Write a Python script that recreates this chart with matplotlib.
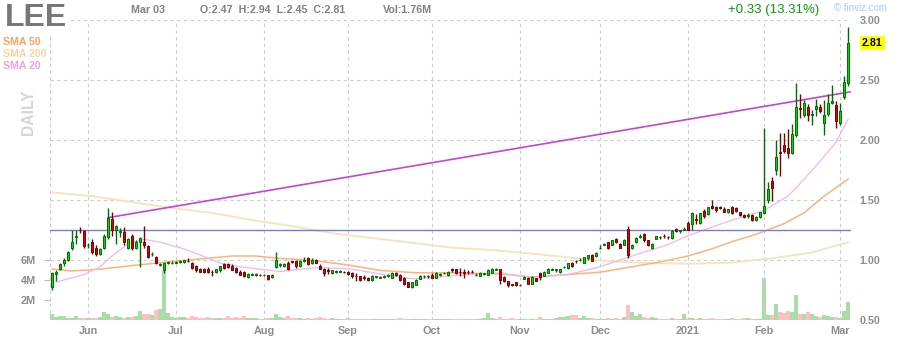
import matplotlib
matplotlib.use('Agg')
import matplotlib.pyplot as plt
import numpy as np
import pandas as pd

plt.rcParams['font.family'] = ['Liberation Sans', 'DejaVu Sans']

# ---------------- data ----------------
ticker = "LEE"
holidays = ['2020-05-25', '2020-07-03', '2020-09-07', '2020-11-26',
            '2020-12-25', '2021-01-01', '2021-01-18', '2021-02-15']
dates = pd.bdate_range('2020-05-18', '2021-03-03')
dates = dates[~dates.isin(pd.to_datetime(holidays))]

opens = [0.77, 0.88, 0.925, 0.97, 1.00, 1.10, 1.19, 1.25, 1.24, 1.12,
         1.15, 1.10, 1.05, 1.10, 1.19, 1.34, 1.25, 1.23, 1.23, 1.10,
         1.20, 1.10, 1.15, 1.15, 1.11, 1.045, 1.02, 0.955, 0.91, 0.97,
         0.97, 0.975, 0.98, 0.98, 0.99, 0.975, 0.95, 0.925, 0.925, 0.925,
         0.90, 0.895, 0.91, 0.96, 0.965, 0.95, 0.93, 0.90, 0.90, 0.855,
         0.875, 0.87, 0.875, 0.87, 0.87, 0.855, 0.94, 0.955, 0.95, 0.975,
         0.985, 0.99, 0.95, 0.99, 1.01, 0.97, 1.00, 0.95, 0.925, 0.91,
         0.89, 0.90, 0.90, 0.90, 0.90, 0.89, 0.865, 0.86, 0.855, 0.845,
         0.83, 0.855, 0.85, 0.855, 0.86, 0.85, 0.89, 0.875, 0.85, 0.81,
         0.77, 0.79, 0.84, 0.86, 0.865, 0.875, 0.85, 0.87, 0.885, 0.87,
         0.92, 0.92, 0.90, 0.895, 0.90, 0.90, 0.87, 0.865, 0.88, 0.875,
         0.89, 0.915, 0.92, 0.855, 0.82, 0.795, 0.81, 0.788, 0.84, 0.85,
         0.80, 0.845, 0.89, 0.865, 0.89, 0.915, 0.915, 0.895, 0.935, 0.93,
         0.975, 0.99, 0.995, 0.975, 1.01, 1.04, 1.03, 1.095, 1.125, 1.145,
         1.125, 1.175, 1.13, 1.125, 1.255, 1.10, 1.145, 1.19, 1.21, 1.16,
         1.10, 1.175, 1.19, 1.20, 1.19, 1.18, 1.255, 1.24, 1.25, 1.305,
         1.30, 1.335, 1.305, 1.405, 1.38, 1.45, 1.435, 1.435, 1.425, 1.395,
         1.44, 1.43, 1.395, 1.375, 1.36, 1.375, 1.33, 1.355, 1.39, 1.50,
         1.66, 1.745, 1.895, 1.96, 1.93, 1.89, 2.04, 2.265, 2.21, 2.275,
         2.21, 2.26, 2.275, 2.14, 2.215, 2.31, 2.29, 2.14, 2.36, 2.47]
highs = [0.90, 0.91, 0.97, 1.01, 1.07, 1.25, 1.25, 1.27, 1.25, 1.14,
         1.17, 1.12, 1.10, 1.21, 1.43, 1.40, 1.29, 1.26, 1.27, 1.18,
         1.21, 1.16, 1.19, 1.28, 1.12, 1.06, 1.03, 0.97, 0.98, 0.99,
         0.985, 0.99, 1.00, 1.00, 1.01, 0.98, 0.955, 0.93, 0.93, 0.935,
         0.91, 0.925, 0.95, 0.97, 0.975, 0.96, 0.935, 0.91, 0.905, 0.885,
         0.89, 0.885, 0.88, 0.88, 0.875, 0.88, 1.06, 0.97, 0.97, 0.99,
         0.99, 1.00, 1.00, 1.02, 1.02, 1.01, 1.005, 0.96, 0.93, 0.93,
         0.915, 0.91, 0.91, 0.905, 0.905, 0.895, 0.89, 0.865, 0.87, 0.855,
         0.87, 0.865, 0.865, 0.87, 0.88, 0.90, 0.90, 0.88, 0.855, 0.815,
         0.815, 0.835, 0.87, 0.875, 0.87, 0.89, 0.895, 0.885, 0.90, 0.905,
         0.93, 0.925, 0.93, 0.92, 0.91, 0.91, 0.89, 0.895, 0.89, 0.925,
         0.93, 0.93, 0.925, 0.86, 0.825, 0.80, 0.815, 0.80, 0.86, 0.855,
         0.86, 0.85, 0.895, 0.905, 0.93, 0.93, 0.925, 0.925, 0.95, 0.975,
         0.98, 1.00, 1.01, 1.025, 1.035, 1.045, 1.06, 1.12, 1.14, 1.15,
         1.165, 1.18, 1.135, 1.17, 1.28, 1.13, 1.19, 1.21, 1.22, 1.165,
         1.135, 1.20, 1.20, 1.21, 1.20, 1.245, 1.265, 1.25, 1.27, 1.32,
         1.395, 1.38, 1.39, 1.42, 1.44, 1.50, 1.45, 1.445, 1.44, 1.425,
         1.45, 1.44, 1.40, 1.38, 1.385, 1.38, 1.36, 1.40, 2.10, 1.65,
         1.69, 2.00, 2.06, 2.06, 2.09, 2.13, 2.47, 2.38, 2.33, 2.30,
         2.25, 2.34, 2.30, 2.33, 2.38, 2.46, 2.32, 2.31, 2.53, 2.94]
lows = [0.75, 0.82, 0.91, 0.95, 0.99, 1.08, 1.13, 1.22, 1.10, 1.10,
        1.05, 1.03, 1.04, 1.09, 1.17, 1.20, 1.13, 1.19, 1.12, 1.09,
        1.08, 1.09, 0.94, 1.10, 1.01, 1.03, 0.96, 0.95, 0.89, 0.96,
        0.96, 0.97, 0.97, 0.97, 0.98, 0.92, 0.90, 0.895, 0.89, 0.89,
        0.86, 0.89, 0.90, 0.92, 0.93, 0.91, 0.89, 0.87, 0.855, 0.85,
        0.87, 0.865, 0.865, 0.86, 0.83, 0.85, 0.93, 0.94, 0.94, 0.91,
        0.97, 0.93, 0.94, 0.98, 0.955, 0.96, 0.97, 0.92, 0.86, 0.88,
        0.88, 0.89, 0.895, 0.885, 0.875, 0.85, 0.82, 0.82, 0.83, 0.82,
        0.82, 0.845, 0.845, 0.85, 0.855, 0.845, 0.865, 0.82, 0.79, 0.77,
        0.765, 0.785, 0.835, 0.85, 0.85, 0.845, 0.845, 0.865, 0.88, 0.865,
        0.90, 0.88, 0.86, 0.85, 0.88, 0.885, 0.865, 0.86, 0.87, 0.87,
        0.885, 0.91, 0.80, 0.81, 0.77, 0.78, 0.78, 0.78, 0.835, 0.795,
        0.795, 0.82, 0.83, 0.86, 0.885, 0.91, 0.90, 0.89, 0.93, 0.925,
        0.94, 0.97, 0.99, 0.97, 1.00, 0.985, 1.025, 1.09, 1.12, 1.09,
        1.12, 1.14, 1.095, 1.12, 1.015, 1.09, 1.14, 1.18, 1.15, 1.115,
        1.09, 1.17, 1.17, 1.18, 1.175, 1.175, 1.23, 1.22, 1.245, 1.245,
        1.25, 1.30, 1.30, 1.35, 1.375, 1.42, 1.40, 1.42, 1.395, 1.39,
        1.38, 1.40, 1.36, 1.35, 1.35, 1.325, 1.325, 1.35, 1.38, 1.47,
        1.49, 1.71, 1.70, 1.89, 1.85, 1.88, 2.02, 2.18, 2.19, 2.16,
        2.125, 2.20, 2.22, 2.04, 2.20, 2.30, 2.10, 2.12, 2.34, 2.45]
closes = [0.89, 0.90, 0.96, 1.00, 1.06, 1.15, 1.20, 1.245, 1.11, 1.125,
          1.06, 1.05, 1.09, 1.20, 1.35, 1.25, 1.28, 1.235, 1.15, 1.17,
          1.10, 1.15, 1.18, 1.12, 1.02, 1.05, 0.97, 0.96, 0.975, 0.98,
          0.975, 0.98, 0.99, 0.995, 0.985, 0.93, 0.91, 0.90, 0.90, 0.90,
          0.895, 0.92, 0.945, 0.93, 0.94, 0.915, 0.90, 0.875, 0.86, 0.88,
          0.88, 0.88, 0.87, 0.872, 0.84, 0.875, 1.00, 0.965, 0.965, 0.925,
          0.98, 0.95, 0.99, 0.995, 0.96, 1.00, 0.975, 0.925, 0.89, 0.905,
          0.91, 0.905, 0.902, 0.895, 0.88, 0.86, 0.86, 0.83, 0.85, 0.83,
          0.86, 0.86, 0.855, 0.86, 0.875, 0.89, 0.87, 0.83, 0.80, 0.775,
          0.81, 0.83, 0.865, 0.862, 0.86, 0.85, 0.89, 0.88, 0.89, 0.90,
          0.915, 0.89, 0.895, 0.89, 0.895, 0.895, 0.875, 0.89, 0.882, 0.91,
          0.92, 0.92, 0.83, 0.82, 0.79, 0.79, 0.785, 0.79, 0.855, 0.80,
          0.855, 0.825, 0.855, 0.90, 0.92, 0.92, 0.917, 0.92, 0.94, 0.97,
          0.945, 0.985, 1.00, 1.02, 1.035, 0.99, 1.055, 1.10, 1.13, 1.10,
          1.16, 1.145, 1.10, 1.16, 1.035, 1.125, 1.18, 1.195, 1.16, 1.125,
          1.13, 1.195, 1.185, 1.195, 1.185, 1.24, 1.235, 1.242, 1.255, 1.25,
          1.39, 1.33, 1.39, 1.36, 1.435, 1.43, 1.41, 1.43, 1.40, 1.42,
          1.39, 1.405, 1.37, 1.355, 1.375, 1.33, 1.355, 1.395, 1.45, 1.59,
          1.60, 1.86, 1.89, 1.91, 1.89, 2.05, 2.275, 2.26, 2.31, 2.21,
          2.215, 2.28, 2.24, 2.21, 2.31, 2.32, 2.16, 2.24, 2.48, 2.81]
volumes_m = [0.6, 0.3, 0.4, 0.4, 0.2, 0.2, 0.4, 0.2, 0.2, 0.2,
             0.2, 0.2, 0.3, 0.8, 0.6, 0.3, 0.4, 0.3, 0.2, 0.3,
             0.3, 0.4, 0.9, 0.6, 0.6, 0.5, 1.0, 1.1, 4.9, 0.7,
             0.3, 0.2, 0.3, 0.3, 0.2, 0.4, 0.3, 0.2, 0.2, 0.3,
             0.2, 0.2, 0.2, 0.2, 0.4, 0.2, 0.3, 0.2, 0.4, 0.2,
             0.2, 0.2, 0.1, 0.1, 0.2, 0.2, 0.6, 0.3, 0.2, 0.4,
             0.2, 0.2, 0.2, 0.1, 0.2, 0.1, 0.2, 0.3, 0.2, 0.1,
             0.2, 0.1, 0.1, 0.1, 0.2, 0.1, 0.1, 0.1, 0.1, 0.1,
             0.1, 0.1, 0.1, 0.1, 0.1, 0.1, 0.1, 0.2, 0.1, 0.1,
             0.1, 0.1, 0.1, 0.1, 0.1, 0.1, 0.1, 0.1, 0.1, 0.1,
             0.1, 0.1, 0.1, 0.1, 0.1, 0.1, 0.1, 0.1, 0.2, 0.7,
             0.2, 0.1, 0.3, 0.1, 0.1, 0.2, 0.1, 0.1, 0.1, 0.1,
             0.1, 0.1, 0.3, 0.1, 0.1, 0.1, 0.2, 0.3, 0.3, 0.4,
             0.5, 0.5, 0.2, 0.4, 0.2, 0.2, 0.1, 0.1, 0.1, 0.2,
             0.1, 0.2, 0.1, 0.3, 1.5, 0.8, 0.4, 0.6, 0.3, 0.2,
             0.3, 0.2, 0.1, 0.1, 0.1, 0.2, 0.1, 0.1, 0.6, 0.2,
             0.2, 0.1, 0.2, 0.1, 0.1, 0.2, 0.1, 0.1, 0.1, 0.1,
             0.2, 0.1, 0.1, 0.2, 0.2, 0.1, 0.1, 0.1, 4.2, 0.5,
             0.5, 1.6, 0.8, 0.7, 0.9, 0.8, 2.45, 0.6, 0.6, 0.8,
             0.6, 0.4, 0.3, 0.5, 0.4, 0.3, 0.3, 0.2, 0.9, 1.76]

sma20_idx = [1, 4, 8, 12, 15, 19, 23, 27, 32, 37, 42, 47, 52, 57, 62, 67, 75,
             83, 90, 95, 104, 112, 120, 129, 137, 145, 154, 159, 170, 178,
             184, 188, 192, 196, 199]
sma20_val = [0.81, 0.84, 0.875, 0.94, 1.03, 1.13, 1.17, 1.145, 1.10, 1.04,
             0.97, 0.94, 0.92, 0.90, 0.92, 0.935, 0.92, 0.875, 0.84, 0.85,
             0.875, 0.89, 0.85, 0.875, 0.94, 1.03, 1.125, 1.20, 1.33, 1.41,
             1.53, 1.67, 1.82, 1.98, 2.17]
sma50_idx = [0, 5, 12, 20, 29, 37, 45, 51, 57, 62, 66, 74, 82, 91, 101, 112,
             120, 129, 137, 145, 152, 159, 165, 170, 175, 178, 183, 188, 193, 199]
sma50_val = [0.92, 0.905, 0.92, 0.95, 0.98, 1.005, 1.03, 1.03, 1.01, 1.00,
             0.99, 0.955, 0.91, 0.89, 0.89, 0.88, 0.855, 0.875, 0.895, 0.94,
             0.98, 1.03, 1.09, 1.15, 1.20, 1.235, 1.30, 1.39, 1.53, 1.67]
sma200_idx = [0, 10, 20, 30, 40, 50, 60, 70, 80, 90, 100, 110, 120, 130,
              140, 150, 160, 170, 180, 190, 199]
sma200_val = [1.56, 1.53, 1.48, 1.43, 1.39, 1.33, 1.28, 1.22, 1.18, 1.14,
              1.10, 1.08, 1.05, 1.015, 0.985, 0.97, 0.965, 0.975, 1.01, 1.06,
              1.145]

hline_level = 1.25
trend_idx = [14, 199.5]
trend_val = [1.35, 2.40]

price_ticks = [0.5, 1.0, 1.5, 2.0, 2.5, 3.0]
vol_ticks_m = [2, 4, 6]

header_date = "Mar 03"
header_ohlc = "O:2.47  H:2.94  L:2.45  C:2.81"
header_vol = "Vol:1.76M"
header_change = "+0.33 (13.31%)"
last_price = 2.81

# ---------------- figure ----------------
W, H = 900, 340
fig = plt.figure(figsize=(9, 3.4), dpi=100)
L, R, T, B = 50, 851, 20, 319.5
pos = [L / W, 1 - B / H, (R - L) / W, (B - T) / H]
axv = fig.add_axes(pos)
ax = fig.add_axes(pos, sharex=axv)
ax.patch.set_visible(False)

n = len(closes)
idx = np.arange(n)
o = np.array(opens); h = np.array(highs); l = np.array(lows); c = np.array(closes)
up = c >= o

# volume
vcol = np.where(up, '#a9dca9', '#ffc0c0')
axv.bar(idx, volumes_m, width=0.85, color=vcol, linewidth=0)
axv.set_ylim(0, 30)
axv.set_yticks(vol_ticks_m)
axv.set_yticklabels([f"{v}M" for v in vol_ticks_m])
axv.tick_params(axis='y', left=True, right=False, length=4, width=0.8,
                color='#bbbbbb', pad=6, labelsize=7.8, labelcolor='#8c8c8c')
for t in axv.get_yticklabels():
    t.set_fontweight('bold')
axv.tick_params(axis='x', bottom=False, labelbottom=False)
for s in axv.spines.values():
    s.set_visible(False)

# price axis
ax.set_xlim(-0.5, 199.75)
ax.set_ylim(0.5, 3.0)
for s in ax.spines.values():
    s.set_visible(False)
ax.yaxis.tick_right()
ax.set_yticks(price_ticks)
ax.set_yticklabels([f"{p:.2f}" for p in price_ticks])
ax.tick_params(axis='y', length=0, pad=6, labelsize=7.7, labelcolor='#8c8c8c')
for t in ax.get_yticklabels():
    t.set_fontweight('bold')

# month ticks
mt, ml = [], []
prev = None
for i, d in enumerate(dates):
    if prev is not None and d.month != prev:
        mt.append(i)
        ml.append(str(d.year) if d.month == 1 else d.strftime('%b'))
    prev = d.month
ax.set_xticks(mt)
ax.set_xticklabels(ml)
ax.tick_params(axis='x', length=0, pad=5, labelsize=7.8, labelcolor='#8c8c8c')
for t in ax.get_xticklabels():
    t.set_fontweight('bold')

grid_kw = dict(color='#cccccc', lw=0.8, ls=(0, (3, 3)), zorder=0.5)
ax.grid(True, **{k: v for k, v in grid_kw.items() if k != 'zorder'})
ax.set_axisbelow(True)
ax.axvline(-0.5, **grid_kw)

# moving averages
ax.plot(sma200_idx, sma200_val, color='#f5e4c0', lw=1.4, zorder=1.5)
ax.plot(sma50_idx, sma50_val, color='#ffb27a', lw=1.1, zorder=1.6)
ax.plot(sma20_idx, sma20_val, color='#f4b4ee', lw=0.9, zorder=1.7)

ax.axhline(hline_level, color='#7b7bdc', lw=1.0, zorder=1.8)
ax.plot(trend_idx, trend_val, color='#c544d0', lw=1.2, zorder=1.9)

# candles
body = np.where(up, '#00dd00', '#e00000')
edge = np.where(up, '#006b00', '#7a0000')
ax.vlines(idx, l, h, colors=edge, lw=1.0, zorder=3)
hgt = np.maximum(np.abs(c - o), 0.004)
ax.bar(idx, hgt, bottom=np.minimum(o, c), width=0.72, color=body,
       edgecolor=edge, linewidth=0.7, zorder=4)

# texts
fig.text(5 / W, 1 - 18.5 / H, ticker, fontsize=23, fontweight='bold', color='#777777',
         va='center', ha='left',
         bbox=dict(facecolor='white', edgecolor='none', pad=0.5), zorder=10)
hdr_y = 1 - 10 / H
fig.text(131 / W, hdr_y, header_date, fontsize=7.7, fontweight='bold', color='#808080', va='center')
fig.text(200 / W, hdr_y, header_ohlc, fontsize=7.7, fontweight='bold', color='#808080', va='center')
fig.text(383 / W, hdr_y, header_vol, fontsize=7.7, fontweight='bold', color='#808080', va='center')
fig.text(728 / W, 1 - 9.5 / H, header_change, fontsize=9.5, color='#0a9a0a', va='center')
fig.text(834 / W, 1 - 8 / H, "\u00a9 finviz.com", fontsize=7, color='#a8cce8', va='center')

fig.text(3 / W, 1 - 42 / H, "SMA 50", fontsize=7.6, fontweight='bold', color='#ffa060', va='center')
fig.text(3 / W, 1 - 54 / H, "SMA 200", fontsize=7.6, fontweight='bold', color='#f0d8a0', va='center')
fig.text(3 / W, 1 - 66 / H, "SMA 20", fontsize=7.6, fontweight='bold', color='#f0a0e8', va='center')
fig.text(28 / W, 1 - 112 / H, "DAILY", fontsize=11.3, fontweight='bold', color='#d6d6d6',
         rotation=90, va='center', ha='center')

ax.annotate(f"{last_price:.2f}", xy=(1, last_price), xycoords=('axes fraction', 'data'),
            xytext=(8, 0), textcoords='offset points', fontsize=7.7, fontweight='bold',
            color='black', va='center', ha='left',
            bbox=dict(facecolor='#ffff00', edgecolor='none', pad=1.5))

fig.savefig('out.png', dpi=100)
